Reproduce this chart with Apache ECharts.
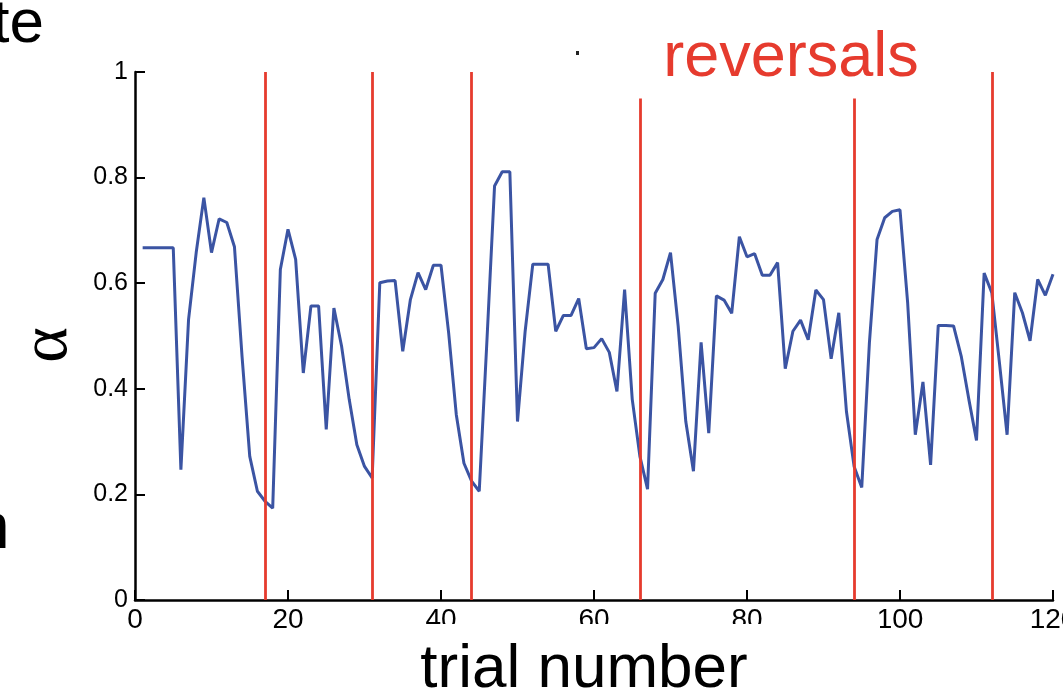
<!DOCTYPE html>
<html>
<head>
<meta charset="utf-8">
<script src="https://cdn.jsdelivr.net/npm/echarts@6/dist/echarts.min.js"></script>
<style>html,body{margin:0;padding:0;background:#fff}#chart{width:1063px;height:700px}</style>
</head>
<body>
<div id="chart"></div>
<script>
// Trial numbers 1..120 and learning-rate alpha per trial
const alphaValues = [
  0.667, 0.667, 0.667, 0.667, 0.667, 0.247, 0.531, 0.658, 0.762, 0.658,
  0.722, 0.715, 0.669, 0.46, 0.272, 0.206, 0.187, 0.174, 0.626, 0.702,
  0.645, 0.430, 0.557, 0.557, 0.323, 0.553, 0.481, 0.380, 0.294, 0.253,
  0.231, 0.601, 0.604, 0.605, 0.471, 0.569, 0.620, 0.588, 0.634, 0.634,
  0.506, 0.351, 0.259, 0.225, 0.206, 0.49, 0.784, 0.811, 0.811, 0.338,
  0.509, 0.636, 0.636, 0.636, 0.509, 0.539, 0.539, 0.571, 0.476, 0.478,
  0.495, 0.469, 0.395, 0.588, 0.380, 0.272, 0.210, 0.581, 0.607, 0.658,
  0.519, 0.338, 0.244, 0.488, 0.316, 0.576, 0.568, 0.543, 0.688, 0.650,
  0.656, 0.615, 0.615, 0.639, 0.438, 0.509, 0.530, 0.493, 0.587, 0.569,
  0.457, 0.544, 0.357, 0.253, 0.213, 0.487, 0.683, 0.724, 0.736, 0.739,
  0.563, 0.313, 0.413, 0.256, 0.520, 0.520, 0.519, 0.462, 0.380, 0.302,
  0.619, 0.582, 0.449, 0.313, 0.582, 0.544, 0.491, 0.607, 0.577, 0.617
];
const firstTrial = 1;
// Reversal trials (red vertical lines) and the alpha value where each line starts at the top
const reversalTrials = [17, 31, 44, 66, 94, 112];
const reversalTops = [1, 1, 1, 0.95, 0.95, 1];
const xTicks = { min: 0, max: 120, interval: 20 };
const yTicks = { min: 0, max: 1, interval: 0.2 };
const texts = { xName: 'trial number', yName: 'α', annotation: 'reversals', frag1: 'te', frag2: 'n' };

const seriesData = alphaValues.map((v, i) => [firstTrial + i, v]);
const markLines = reversalTrials.map((t, i) => [
  { coord: [t, reversalTops[i]] },
  { coord: [t, 0] }
]);

const chart = echarts.init(document.getElementById('chart'), null, { renderer: 'canvas' });
chart.setOption({
  animation: false,
  backgroundColor: '#ffffff',
  grid: { left: 135, right: 10, top: 72, bottom: 100, containLabel: false, outerBoundsMode: 'none' },
  xAxis: {
    type: 'value', min: xTicks.min, max: xTicks.max, interval: xTicks.interval,
    axisLine: { show: true, lineStyle: { color: '#000', width: 2.5 } },
    axisTick: { show: true, inside: true, length: 10, lineStyle: { color: '#000', width: 2 } },
    axisLabel: { color: '#000', fontSize: 28, fontFamily: 'Liberation Sans, Arial, sans-serif', margin: 6, showMinLabel: true, showMaxLabel: true, hideOverlap: false },
    splitLine: { show: false }
  },
  yAxis: {
    type: 'value', min: yTicks.min, max: yTicks.max, interval: yTicks.interval,
    name: texts.yName, nameLocation: 'middle', nameRotate: 90, nameGap: 47,
    nameTextStyle: { color: '#000', fontSize: 68, fontFamily: 'Liberation Serif, serif', padding: [0, 18, 0, 0] },
    axisLine: { show: true, lineStyle: { color: '#000', width: 2.5 } },
    axisTick: { show: true, inside: true, length: 10, lineStyle: { color: '#000', width: 2 } },
    axisLabel: { color: '#000', fontSize: 25, fontFamily: 'Liberation Sans, Arial, sans-serif', margin: 7 },
    splitLine: { show: false }
  },
  series: [{
    type: 'line',
    data: seriesData,
    showSymbol: false,
    lineStyle: { color: '#3b54a3', width: 3 },
    itemStyle: { color: '#3b54a3' },
    z: 2,
    markLine: {
      silent: true, symbol: 'none', z: 5,
      label: { show: false },
      lineStyle: { color: '#e63b2e', width: 2.8, type: 'solid' },
      data: markLines
    }
  }],
  graphic: [
    { type: 'rect', z: 100, shape: { x: 405, y: 624, width: 475, height: 80 }, style: { fill: '#ffffff' } },
    { type: 'text', z: 101, x: 584, y: 670, style: { text: texts.xName, fill: '#000', fontSize: 62, fontFamily: 'Liberation Sans, Arial, sans-serif', align: 'center', verticalAlign: 'middle' } },
    { type: 'text', z: 101, x: 791, y: 59, style: { text: texts.annotation, fill: '#e63b2e', fontSize: 63, fontFamily: 'Liberation Sans, Arial, sans-serif', align: 'center', verticalAlign: 'middle' } },
    { type: 'text', z: 101, x: 44, y: 25, style: { text: texts.frag1, fill: '#000', fontSize: 62, fontFamily: 'Liberation Sans, Arial, sans-serif', align: 'right', verticalAlign: 'middle' } },
    { type: 'text', z: 101, x: -26, y: 530, style: { text: texts.frag2, fill: '#000', fontSize: 64, fontFamily: 'Liberation Sans, Arial, sans-serif', align: 'left', verticalAlign: 'middle' } },
    { type: 'rect', z: 101, shape: { x: 576, y: 51, width: 3, height: 4 }, style: { fill: '#222' } }
  ]
});
</script>
</body>
</html>
